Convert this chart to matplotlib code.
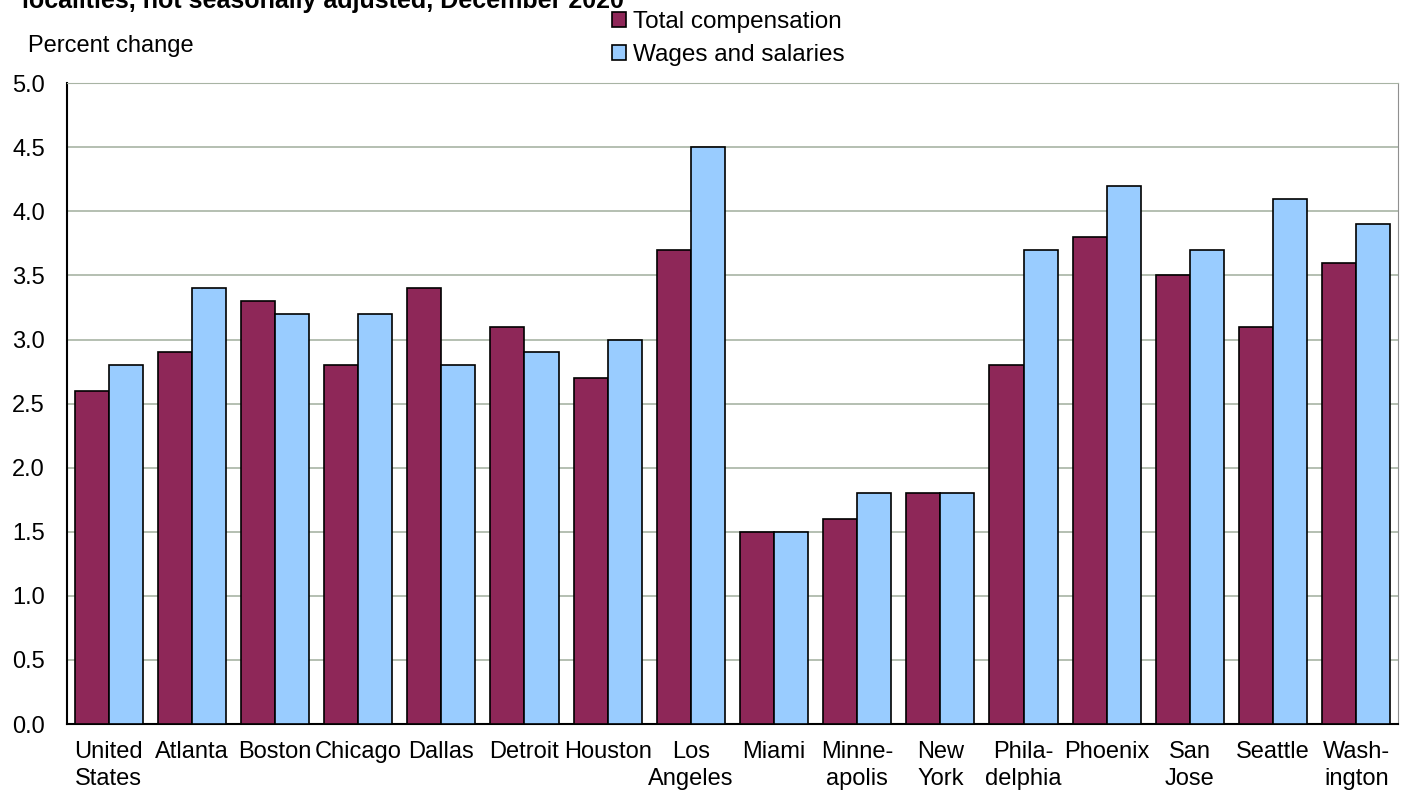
import matplotlib
matplotlib.use('Agg')
import matplotlib.pyplot as plt
import numpy as np

plt.rcParams['font.family'] = ['Liberation Sans', 'DejaVu Sans']

# Datos
ciudades = ['United\nStates', 'Atlanta', 'Boston', 'Chicago', 'Dallas', 'Detroit',
            'Houston', 'Los\nAngeles', 'Miami', 'Minne-\napolis', 'New\nYork',
            'Phila-\ndelphia', 'Phoenix', 'San\nJose', 'Seattle', 'Wash-\nington']
total_comp = [2.6, 2.9, 3.3, 2.8, 3.4, 3.1, 2.7, 3.7, 1.5, 1.6, 1.8, 2.8, 3.8, 3.5, 3.1, 3.6]
salarios = [2.8, 3.4, 3.2, 3.2, 2.8, 2.9, 3.0, 4.5, 1.5, 1.8, 1.8, 3.7, 4.2, 3.7, 4.1, 3.9]
yticks = np.arange(0, 5.01, 0.5)

fig = plt.figure(figsize=(14.02, 7.93), dpi=100)
ax = fig.add_axes([0.0478, 0.087, 0.9492, 0.808])

x = np.arange(len(ciudades))
w = 0.41
ax.bar(x - w / 2, total_comp, w, color='#8E2758', edgecolor='black', linewidth=1.2,
       label='Total compensation', zorder=3)
ax.bar(x + w / 2, salarios, w, color='#99CCFF', edgecolor='black', linewidth=1.2,
       label='Wages and salaries', zorder=3)

ax.set_xlim(-0.5, len(ciudades) - 0.5)
ax.set_ylim(0, 5.0)
ax.set_yticks(yticks)
ax.set_yticklabels([f'{v:.1f}' for v in yticks], fontsize=17)
ax.set_xticks(x)
ax.set_xticklabels(ciudades, fontsize=17, linespacing=1.3)
ax.tick_params(axis='y', length=0, pad=16)
ax.tick_params(axis='x', length=0, pad=12)
ax.grid(axis='y', color='#A8B4A4', linewidth=1.2, zorder=0)

ax.spines['left'].set_color('black')
ax.spines['bottom'].set_color('black')
ax.spines['left'].set_linewidth(1.5)
ax.spines['bottom'].set_linewidth(1.5)
ax.spines['top'].set_color('#A8B4A4')
ax.spines['right'].set_color('#909090')

fig.text(0.02, 0.942, 'Percent change', fontsize=17, va='center')
fig.text(0.016, 0.99, 'localities, not seasonally adjusted, December 2020',
         fontsize=18, fontweight='bold', va='baseline')

ax.legend(loc='upper left', bbox_to_anchor=(0.4025, 1.128), frameon=False, fontsize=17.5,
          handlelength=0.55, handleheight=0.55, handletextpad=0.3, labelspacing=0.45,
          borderaxespad=0)

fig.savefig('out.png', dpi=100)
plt.close()
